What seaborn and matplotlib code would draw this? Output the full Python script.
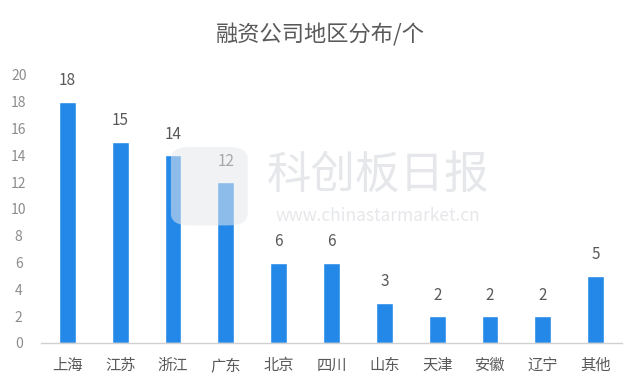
import matplotlib
matplotlib.use("Agg")
import matplotlib.pyplot as plt
import seaborn as sns
import pandas as pd
from matplotlib.patches import FancyBboxPatch

regions = ["上海", "江苏", "浙江", "广东", "北京", "四川", "山东", "天津", "安徽", "辽宁", "其他"]
counts = [18, 15, 14, 12, 6, 6, 3, 2, 2, 2, 5]
yticks = [0, 2, 4, 6, 8, 10, 12, 14, 16, 18, 20]
title = "融资公司地区分布/个"

sns.set_theme(style="white")
plt.rcParams['font.family'] = ['Noto Sans CJK SC', 'DejaVu Sans']
plt.rcParams['font.weight'] = 'light'

df = pd.DataFrame({"region": regions, "count": counts})

fig = plt.figure(figsize=(6.4, 3.92), dpi=100)
ax = fig.add_axes([0.064, 0.125, 0.908, 0.684])

sns.barplot(data=df, x="region", y="count", color="#2388E8", saturation=1,
            width=0.32, ax=ax, zorder=2)

ax.set_ylim(0, 20)
ax.set_xlim(-0.5, len(regions) - 0.5)
ax.set_yticks(yticks)
ax.set_xlabel("")
ax.set_ylabel("")
for s in ["left", "right", "top"]:
    ax.spines[s].set_visible(False)
ax.spines["bottom"].set_color("#D0D0D0")
ax.spines["bottom"].set_linewidth(1.0)
ax.tick_params(axis="y", length=0, labelsize=10, labelcolor="#8C8C8C", pad=16)
ax.tick_params(axis="x", length=0, labelsize=11, labelcolor="#595959", pad=10)
for lab in ax.get_yticklabels():
    lab.set_horizontalalignment("center")
    lab.set_fontweight("light")
for lab in ax.get_xticklabels():
    lab.set_fontweight("light")

for i, v in enumerate(counts):
    ax.annotate(str(v), (i, v), xytext=(0, 9), textcoords="offset points",
                ha="center", va="bottom", fontsize=11, color="#595959",
                fontweight="light")

fig.text(0.5, 0.91, title, ha="center", va="center", fontsize=16, color="#595959",
         fontweight="light")

# watermark
logo = FancyBboxPatch((0.272, 0.43), 0.11, 0.19, boxstyle="round,pad=0.005,rounding_size=0.03",
                      transform=fig.transFigure, facecolor="#E6E8EC", edgecolor="none",
                      alpha=0.55, zorder=5)
fig.patches.append(logo)
fig.text(0.59, 0.555, "科创板日报", ha="center", va="center", fontsize=32,
         color="#E3E5E8", alpha=0.9, zorder=6, fontweight="light")
fig.text(0.59, 0.448, "www.chinastarmarket.cn", ha="center", va="center", fontsize=12.5,
         color="#E3E5E8", alpha=0.9, zorder=6, fontweight="light")

fig.savefig("out.png", dpi=100, facecolor="white")
